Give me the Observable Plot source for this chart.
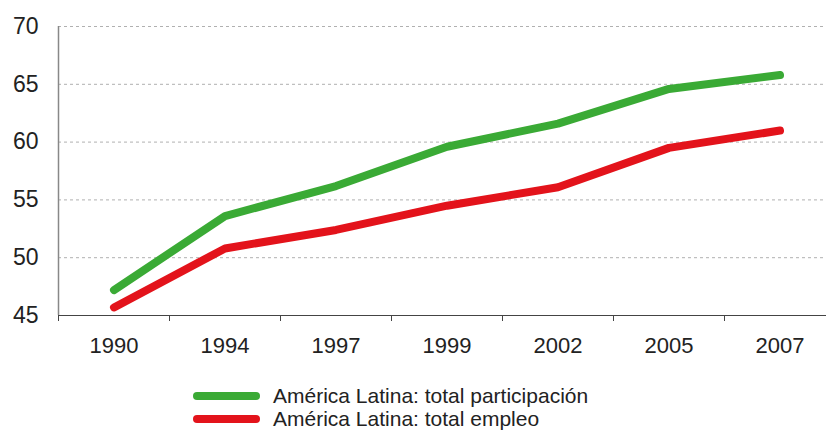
<!DOCTYPE html>
<html>
<head>
<meta charset="utf-8">
<script src="https://cdn.jsdelivr.net/npm/d3@7"></script>
<script src="https://cdn.jsdelivr.net/npm/@observablehq/plot@0.6"></script>
<style>
  body { margin: 0; background: #fff; font-family: "Liberation Sans", Arial, sans-serif; }
  #chart svg { display: block; }
  .legend { position: relative; height: 57px; }
  .row { position: absolute; left: 193px; display: flex; align-items: center; height: 24px; line-height: 24px; font-size: 21px; color: #222; }
  .sw { width: 67px; height: 8px; border-radius: 4px; margin-right: 13px; }
</style>
</head>
<body>
<div id="chart"></div>
<div class="legend">
  <div class="row" style="top:9px"><div class="sw" style="background:#3aaa35"></div><span>América Latina: total participación</span></div>
  <div class="row" style="top:32px"><div class="sw" style="background:#e3131b"></div><span>América Latina: total empleo</span></div>
</div>
<script>
const years = ["1990", "1994", "1997", "1999", "2002", "2005", "2007"];
const participacion = [47.2, 53.6, 56.2, 59.6, 61.6, 64.6, 65.8];
const empleo = [45.7, 50.8, 52.4, 54.5, 56.1, 59.5, 61.0];
const yTicks = [45, 50, 55, 60, 65, 70];

const partData = years.map((yr, i) => ({i: i + 0.5, v: participacion[i]}));
const empData = years.map((yr, i) => ({i: i + 0.5, v: empleo[i]}));

const chart = Plot.plot({
  width: 826,
  height: 375,
  marginLeft: 58,
  marginTop: 26,
  marginBottom: 60,
  marginRight: 0,
  style: {fontFamily: "Liberation Sans, Arial, sans-serif", fontSize: "22px", color: "#222", background: "#fff"},
  x: {domain: [0, 7], range: [58, 835]},
  y: {domain: [45, 70]},
  marks: [
    Plot.gridY([50, 55, 60, 65, 70], {stroke: "#b0b0b0", strokeOpacity: 1, strokeDasharray: "3,3", strokeWidth: 1}),
    Plot.ruleX([0], {y1: 45, y2: 70, stroke: "#888", strokeWidth: 1.5}),
    Plot.ruleY([45], {stroke: "#444", strokeWidth: 1.2}),
    Plot.axisY({ticks: yTicks, tickSize: 0, tickPadding: 20, label: null, fontSize: 23}),
    Plot.axisX({ticks: d3.range(0, 8), tickSize: 6, tickFormat: () => "", label: null, stroke: "#444"}),
    Plot.axisX({ticks: d3.range(0, 7).map(i => i + 0.5), tickSize: 0, tickPadding: 22, tickFormat: d => years[Math.floor(d)], label: null, fontSize: 22}),
    Plot.line(partData, {x: "i", y: "v", stroke: "#3aaa35", strokeWidth: 8, strokeLinecap: "round", strokeLinejoin: "round"}),
    Plot.line(empData, {x: "i", y: "v", stroke: "#e3131b", strokeWidth: 8, strokeLinecap: "round", strokeLinejoin: "round"})
  ]
});
document.getElementById("chart").appendChild(chart);
</script>
</body>
</html>
